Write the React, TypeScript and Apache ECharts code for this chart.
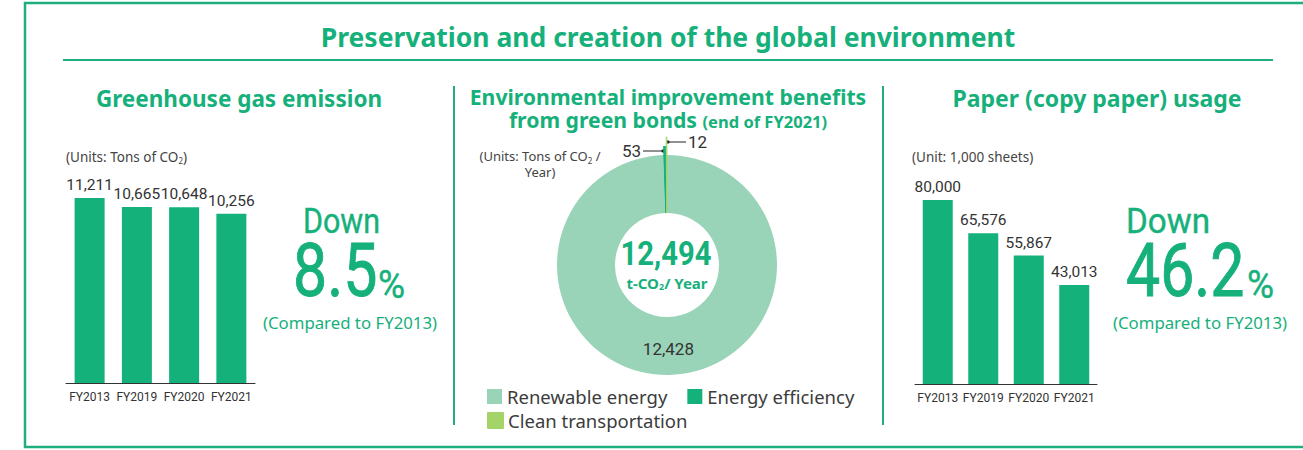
import React, { useEffect, useRef } from "react";
import * as echarts from "echarts";

const ghgYears = ["FY2013", "FY2019", "FY2020", "FY2021"];
const ghgValues = [11211, 10665, 10648, 10256];
const paperYears = ["FY2013", "FY2019", "FY2020", "FY2021"];
const paperValues = [80000, 65576, 55867, 43013];
const bondNames = ["Energy efficiency", "Clean transportation", "Renewable energy"];
const bondValues = [53, 12, 12428];
const bondTotal = "12,494";
const ghgDown = "8.5";
const paperDown = "46.2";

const GREEN = "#16b07b";
const BAR = "#14b27a";
const BOND_COLORS = ["#14b27a", "#a4d468", "#9ad4b8"];
const NUM = "Roboto, 'Noto Sans', sans-serif";
const NOTO = "'Noto Sans', sans-serif";

const fmt = (v: number) => v.toLocaleString("en-US");

export default function App() {
  const ref = useRef<HTMLDivElement>(null);
  useEffect(() => {
    if (!ref.current) return;
    const chart = echarts.init(ref.current, null, { renderer: "svg" });

    const barSeries = (xi: number, values: number[]) => ({
      type: "bar",
      xAxisIndex: xi,
      yAxisIndex: xi,
      barWidth: 30,
      data: values,
      itemStyle: { color: BAR },
      label: {
        show: true,
        position: "top",
        distance: 5,
        fontFamily: NUM,
        fontSize: 15.5,
        color: "#333",
        formatter: (p: any) => fmt(p.value),
      },
    });

    const pieLayer = (radius: number[], visibleIdx: number[], showLabel: boolean) => ({
      type: "pie",
      center: [667, 265],
      radius,
      startAngle: 91.9,
      clockwise: true,
      silent: !showLabel,
      avoidLabelOverlap: false,
      labelLine: { show: false },
      data: bondNames.map((n, i) => ({
        name: n,
        value: bondValues[i],
        itemStyle: {
          color: visibleIdx.includes(i) ? BOND_COLORS[i] : "rgba(0,0,0,0)",
          borderWidth: i === 1 && visibleIdx.includes(i) ? 0.8 : 0,
          borderColor: BOND_COLORS[i],
        },
        label: {
          show: showLabel && i === 2,
          position: "inside",
          formatter: (p: any) => fmt(p.value),
          fontFamily: NUM,
          fontSize: 17,
          color: "#333",
        },
      })),
    });

    const axisX = (gi: number, data: string[]) => ({
      type: "category",
      gridIndex: gi,
      data,
      axisLine: { lineStyle: { color: "#333", width: 1 } },
      axisTick: { show: false },
      axisLabel: { fontFamily: NUM, fontSize: 12, color: "#333", margin: 8, interval: 0 },
    });
    const axisY = (gi: number, max: number) => ({
      type: "value",
      gridIndex: gi,
      min: 0,
      max,
      show: false,
      splitLine: { show: false },
    });

    const sub = { fontSize: 8, verticalAlign: "bottom" };
    const legendText = { fontFamily: NOTO, fontSize: 18.5, color: "#3c3c3c" };
    const lineStyle = { stroke: "#1fae7c", lineWidth: 2 };
    const big = (lw: number) => ({ fill: GREEN, stroke: GREEN, lineWidth: lw, fontFamily: NUM, verticalAlign: "middle" });

    chart.setOption({
      animation: false,
      grid: [
        { left: 66, width: 189, top: 185, height: 198 },
        { left: 915, width: 182, top: 177, height: 207 },
      ],
      xAxis: [axisX(0, ghgYears), axisX(1, paperYears)],
      yAxis: [axisY(0, 12000), axisY(1, 90000)],
      legend: [
        {
          left: 487,
          top: 387,
          padding: 0,
          itemWidth: 15,
          itemHeight: 15,
          itemGap: 20,
          icon: "rect",
          selectedMode: false,
          textStyle: legendText,
          data: ["Renewable energy", "Energy efficiency"],
        },
        {
          left: 487,
          top: 411,
          padding: 0,
          itemWidth: 15,
          itemHeight: 15,
          icon: "rect",
          selectedMode: false,
          textStyle: legendText,
          data: ["Clean transportation"],
        },
      ],
      series: [
        barSeries(0, ghgValues),
        barSeries(1, paperValues),
        pieLayer([52, 110], [0, 1, 2], true),
        pieLayer([52, 119], [0], false),
        pieLayer([52, 128], [1], false),
      ],
      graphic: [
        // outer frame
        { type: "rect", shape: { x: 25, y: 3, width: 1300, height: 444 }, style: { fill: "none", stroke: "#1fae7c", lineWidth: 2.5 }, silent: true },
        // title underline
        { type: "line", shape: { x1: 63, y1: 60, x2: 1273, y2: 60 }, style: lineStyle },
        // dividers
        { type: "line", shape: { x1: 454, y1: 86, x2: 454, y2: 425 }, style: lineStyle },
        { type: "line", shape: { x1: 883, y1: 86, x2: 883, y2: 425 }, style: lineStyle },
        // titles
        { type: "text", x: 668, y: 37, style: { text: "Preservation and creation of the global environment", fontFamily: NOTO, fontWeight: "bold", fontSize: 26.5, fill: GREEN, align: "center", verticalAlign: "middle" } },
        { type: "text", x: 239, y: 98, style: { text: "Greenhouse gas emission", fontFamily: NOTO, fontWeight: "bold", fontSize: 22.5, fill: GREEN, align: "center", verticalAlign: "middle" } },
        {
          type: "text", x: 668, y: 108,
          style: {
            text: "{t|Environmental improvement benefits}\n{t|from green bonds }{s|(end of FY2021)}",
            fontFamily: NOTO, fontWeight: "bold", fontSize: 21.2, fill: GREEN, align: "center", verticalAlign: "middle",
            rich: {
              t: { fontFamily: NOTO, fontWeight: "bold", fontSize: 21.2, fill: GREEN, lineHeight: 23.5 },
              s: { fontFamily: NOTO, fontWeight: "bold", fontSize: 16.5, fill: GREEN, lineHeight: 23.5, padding: [4, 0, 0, 0] },
            },
          },
        },
        { type: "text", x: 1097, y: 98, style: { text: "Paper (copy paper) usage", fontFamily: NOTO, fontWeight: "bold", fontSize: 23, fill: GREEN, align: "center", verticalAlign: "middle" } },
        // unit labels
        {
          type: "text", x: 66, y: 157,
          style: { text: "(Units: Tons of CO{s|2})", fontFamily: NOTO, fontSize: 13.5, fill: "#444", verticalAlign: "middle", rich: { s: { ...sub, fontFamily: NOTO, fill: "#444" } } },
        },
        {
          type: "text", x: 540, y: 164,
          style: {
            text: "{u|(Units: Tons of CO}{s|2}{u| /}\n{u|Year)}", align: "center", verticalAlign: "middle",
            rich: { u: { fontFamily: NOTO, fontSize: 13, fill: "#444", lineHeight: 15.5 }, s: { ...sub, fontFamily: NOTO, fill: "#444", lineHeight: 15.5 } },
          },
        },
        { type: "text", x: 912, y: 157, style: { text: "(Unit: 1,000 sheets)", fontFamily: NOTO, fontSize: 13.5, fill: "#444", verticalAlign: "middle" } },
        // left down block
        { type: "text", x: 303, y: 221, scaleX: 0.87, style: { text: "Down", fontSize: 35, ...big(0.4) } },
        { type: "text", x: 293, y: 271, scaleX: 0.81, style: { text: ghgDown, fontSize: 75, ...big(1.0) } },
        { type: "text", x: 378, y: 285, scaleX: 0.95, style: { text: "%", fontSize: 39, ...big(0.4) } },
        { type: "text", x: 350, y: 322, style: { text: "(Compared to FY2013)", fontFamily: NOTO, fontSize: 16.8, fill: GREEN, align: "center", verticalAlign: "middle" } },
        // right down block
        { type: "text", x: 1126, y: 221, scaleX: 0.95, style: { text: "Down", fontSize: 35, ...big(0.4) } },
        { type: "text", x: 1126, y: 271, scaleX: 0.81, style: { text: paperDown, fontSize: 75, ...big(1.0) } },
        { type: "text", x: 1247, y: 285, scaleX: 0.95, style: { text: "%", fontSize: 39, ...big(0.4) } },
        { type: "text", x: 1200, y: 322, style: { text: "(Compared to FY2013)", fontFamily: NOTO, fontSize: 16.8, fill: GREEN, align: "center", verticalAlign: "middle" } },
        // donut center
        { type: "text", x: 666, y: 254, scaleX: 0.86, style: { text: bondTotal, fontFamily: NUM, fontWeight: "bold", fontSize: 34, fill: GREEN, align: "center", verticalAlign: "middle" } },
        {
          type: "text", x: 667, y: 283,
          style: { text: "t-CO{s|2}/ Year", fontFamily: NOTO, fontWeight: "bold", fontSize: 15, fill: GREEN, align: "center", verticalAlign: "middle", rich: { s: { fontFamily: NOTO, fontWeight: "bold", fontSize: 9, fill: GREEN, verticalAlign: "bottom" } } },
        },
        // small slice callouts
        { type: "line", shape: { x1: 643, y1: 151, x2: 663, y2: 151 }, style: { stroke: "#222", lineWidth: 1 } },
        { type: "circle", shape: { cx: 663, cy: 151, r: 1.6 }, style: { fill: "#222" } },
        { type: "text", x: 641, y: 151, style: { text: String(bondValues[0]), fontFamily: NUM, fontSize: 17, fill: "#333", align: "right", verticalAlign: "middle" } },
        { type: "line", shape: { x1: 668, y1: 142, x2: 686, y2: 142 }, style: { stroke: "#222", lineWidth: 1 } },
        { type: "circle", shape: { cx: 668, cy: 142, r: 1.6 }, style: { fill: "#222" } },
        { type: "text", x: 688, y: 142, style: { text: String(bondValues[1]), fontFamily: NUM, fontSize: 17, fill: "#333", align: "left", verticalAlign: "middle" } },
      ],
    });
    return () => chart.dispose();
  }, []);
  return <div ref={ref} style={{ position: "absolute", left: 0, top: 0, width: 1303, height: 450, background: "#fff" }} />;
}
